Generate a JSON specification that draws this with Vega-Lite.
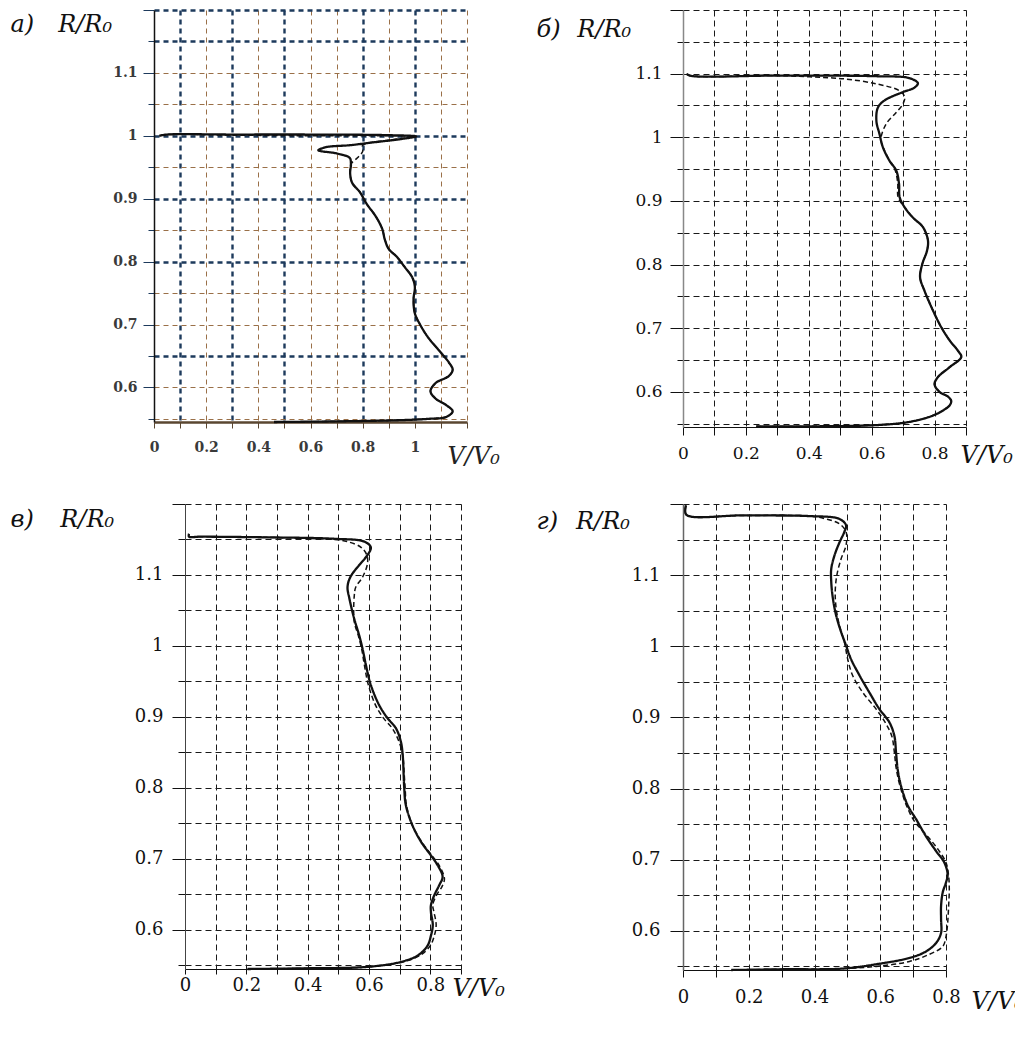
{
  "$schema": "https://vega.github.io/schema/vega-lite/v6.json",
  "background": "white",
  "padding": {"left": 9, "top": 9, "right": 0, "bottom": 0},
  "config": {
    "view": {"stroke": null},
    "axis": {
      "labelFont": "DejaVu Serif", "titleFont": "DejaVu Serif",
      "labelFlush": false, "labelOverlap": false,
      "titleFontStyle": "italic", "titleFontWeight": "normal",
      "titleAlign": "left", "titleBaseline": "alphabetic",
      "tickColor": "#111", "domainColor": "#111", "labelColor": "#111", "titleColor": "#111",
      "grid": true, "gridDash": [6, 4], "gridColor": "#1a1a1a", "gridWidth": 1
    },
    "axisX": {"titleAngle": 0},
    "axisY": {"titleAngle": 0},
    "line": {"color": "#111", "interpolate": "catmull-rom", "clip": false}
  },
  "datasets": {
    "sp": [{"k": 1}],
    "pa": [
      {"s":"solid","i":0,"v":0.46,"r":0.545},{"s":"solid","i":1,"v":0.7,"r":0.546},{"s":"solid","i":2,"v":0.95,"r":0.548},{"s":"solid","i":3,"v":1.05,"r":0.55},{"s":"solid","i":4,"v":1.12,"r":0.553},{"s":"solid","i":5,"v":1.145,"r":0.562},{"s":"solid","i":6,"v":1.12,"r":0.572},{"s":"solid","i":7,"v":1.08,"r":0.582},{"s":"solid","i":8,"v":1.06,"r":0.594},{"s":"solid","i":9,"v":1.08,"r":0.607},{"s":"solid","i":10,"v":1.13,"r":0.618},{"s":"solid","i":11,"v":1.145,"r":0.628},{"s":"solid","i":12,"v":1.13,"r":0.64},{"s":"solid","i":13,"v":1.09,"r":0.66},{"s":"solid","i":14,"v":1.05,"r":0.68},{"s":"solid","i":15,"v":1.02,"r":0.7},{"s":"solid","i":16,"v":1.0,"r":0.718},{"s":"solid","i":17,"v":0.995,"r":0.74},{"s":"solid","i":18,"v":1.0,"r":0.76},{"s":"solid","i":19,"v":0.99,"r":0.775},{"s":"solid","i":20,"v":0.96,"r":0.792},{"s":"solid","i":21,"v":0.93,"r":0.808},{"s":"solid","i":22,"v":0.9,"r":0.82},{"s":"solid","i":23,"v":0.885,"r":0.835},{"s":"solid","i":24,"v":0.875,"r":0.852},{"s":"solid","i":25,"v":0.85,"r":0.872},{"s":"solid","i":26,"v":0.815,"r":0.892},{"s":"solid","i":27,"v":0.79,"r":0.91},{"s":"solid","i":28,"v":0.76,"r":0.925},{"s":"solid","i":29,"v":0.752,"r":0.94},{"s":"solid","i":30,"v":0.755,"r":0.955},{"s":"solid","i":31,"v":0.75,"r":0.965},{"s":"solid","i":32,"v":0.7,"r":0.972},{"s":"solid","i":33,"v":0.63,"r":0.977},{"s":"solid","i":34,"v":0.66,"r":0.982},{"s":"solid","i":35,"v":0.75,"r":0.985},{"s":"solid","i":36,"v":0.85,"r":0.99},{"s":"solid","i":37,"v":0.95,"r":0.995},{"s":"solid","i":38,"v":1.005,"r":0.999},{"s":"solid","i":39,"v":0.9,"r":1.001},{"s":"solid","i":40,"v":0.6,"r":1.002},{"s":"solid","i":41,"v":0.3,"r":1.002},{"s":"solid","i":42,"v":0.05,"r":1.002},{"s":"solid","i":43,"v":0.02,"r":1.0},
      {"s":"dashed","i":0,"v":0.46,"r":0.545},{"s":"dashed","i":1,"v":0.7,"r":0.546},{"s":"dashed","i":2,"v":0.95,"r":0.548},{"s":"dashed","i":3,"v":1.05,"r":0.55},{"s":"dashed","i":4,"v":1.12,"r":0.553},{"s":"dashed","i":5,"v":1.145,"r":0.562},{"s":"dashed","i":6,"v":1.12,"r":0.572},{"s":"dashed","i":7,"v":1.08,"r":0.582},{"s":"dashed","i":8,"v":1.06,"r":0.594},{"s":"dashed","i":9,"v":1.08,"r":0.607},{"s":"dashed","i":10,"v":1.13,"r":0.618},{"s":"dashed","i":11,"v":1.145,"r":0.628},{"s":"dashed","i":12,"v":1.13,"r":0.64},{"s":"dashed","i":13,"v":1.09,"r":0.66},{"s":"dashed","i":14,"v":1.05,"r":0.68},{"s":"dashed","i":15,"v":1.02,"r":0.7},{"s":"dashed","i":16,"v":1.0,"r":0.718},{"s":"dashed","i":17,"v":0.995,"r":0.74},{"s":"dashed","i":18,"v":1.0,"r":0.76},{"s":"dashed","i":19,"v":0.99,"r":0.775},{"s":"dashed","i":20,"v":0.96,"r":0.792},{"s":"dashed","i":21,"v":0.93,"r":0.808},{"s":"dashed","i":22,"v":0.9,"r":0.82},{"s":"dashed","i":23,"v":0.885,"r":0.835},{"s":"dashed","i":24,"v":0.875,"r":0.852},{"s":"dashed","i":25,"v":0.85,"r":0.872},{"s":"dashed","i":26,"v":0.815,"r":0.892},{"s":"dashed","i":27,"v":0.79,"r":0.91},{"s":"dashed","i":28,"v":0.76,"r":0.925},{"s":"dashed","i":29,"v":0.752,"r":0.94},{"s":"dashed","i":30,"v":0.755,"r":0.955},{"s":"dashed","i":31,"v":0.78,"r":0.965},{"s":"dashed","i":32,"v":0.8,"r":0.975},{"s":"dashed","i":33,"v":0.8,"r":0.985},{"s":"dashed","i":34,"v":0.9,"r":0.993},{"s":"dashed","i":35,"v":1.0,"r":0.999},{"s":"dashed","i":36,"v":0.9,"r":1.0},{"s":"dashed","i":37,"v":0.65,"r":1.0},{"s":"dashed","i":38,"v":0.3,"r":1.001},{"s":"dashed","i":39,"v":0.05,"r":1.002},{"s":"dashed","i":40,"v":0.02,"r":1.0}
    ],
    "pb": [
      {"s":"solid","i":0,"v":0.233,"r":0.546},{"s":"solid","i":1,"v":0.4,"r":0.546},{"s":"solid","i":2,"v":0.615,"r":0.548},{"s":"solid","i":3,"v":0.72,"r":0.553},{"s":"solid","i":4,"v":0.795,"r":0.563},{"s":"solid","i":5,"v":0.83,"r":0.572},{"s":"solid","i":6,"v":0.848,"r":0.579},{"s":"solid","i":7,"v":0.853,"r":0.586},{"s":"solid","i":8,"v":0.842,"r":0.593},{"s":"solid","i":9,"v":0.816,"r":0.6},{"s":"solid","i":10,"v":0.8,"r":0.612},{"s":"solid","i":11,"v":0.81,"r":0.623},{"s":"solid","i":12,"v":0.848,"r":0.639},{"s":"solid","i":13,"v":0.885,"r":0.655},{"s":"solid","i":14,"v":0.874,"r":0.665},{"s":"solid","i":15,"v":0.848,"r":0.681},{"s":"solid","i":16,"v":0.821,"r":0.702},{"s":"solid","i":17,"v":0.795,"r":0.728},{"s":"solid","i":18,"v":0.768,"r":0.759},{"s":"solid","i":19,"v":0.754,"r":0.78},{"s":"solid","i":20,"v":0.761,"r":0.801},{"s":"solid","i":21,"v":0.776,"r":0.822},{"s":"solid","i":22,"v":0.779,"r":0.838},{"s":"solid","i":23,"v":0.763,"r":0.859},{"s":"solid","i":24,"v":0.731,"r":0.874},{"s":"solid","i":25,"v":0.705,"r":0.89},{"s":"solid","i":26,"v":0.689,"r":0.906},{"s":"solid","i":27,"v":0.687,"r":0.927},{"s":"solid","i":28,"v":0.678,"r":0.948},{"s":"solid","i":29,"v":0.657,"r":0.963},{"s":"solid","i":30,"v":0.636,"r":0.984},{"s":"solid","i":31,"v":0.625,"r":1.005},{"s":"solid","i":32,"v":0.615,"r":1.026},{"s":"solid","i":33,"v":0.62,"r":1.047},{"s":"solid","i":34,"v":0.641,"r":1.058},{"s":"solid","i":35,"v":0.699,"r":1.071},{"s":"solid","i":36,"v":0.736,"r":1.078},{"s":"solid","i":37,"v":0.747,"r":1.085},{"s":"solid","i":38,"v":0.72,"r":1.093},{"s":"solid","i":39,"v":0.615,"r":1.096},{"s":"solid","i":40,"v":0.3,"r":1.097},{"s":"solid","i":41,"v":0.021,"r":1.097},{"s":"solid","i":42,"v":0.011,"r":1.1},
      {"s":"dashed","i":0,"v":0.233,"r":0.546},{"s":"dashed","i":1,"v":0.4,"r":0.546},{"s":"dashed","i":2,"v":0.615,"r":0.548},{"s":"dashed","i":3,"v":0.72,"r":0.553},{"s":"dashed","i":4,"v":0.795,"r":0.563},{"s":"dashed","i":5,"v":0.83,"r":0.572},{"s":"dashed","i":6,"v":0.848,"r":0.579},{"s":"dashed","i":7,"v":0.853,"r":0.586},{"s":"dashed","i":8,"v":0.842,"r":0.593},{"s":"dashed","i":9,"v":0.816,"r":0.6},{"s":"dashed","i":10,"v":0.8,"r":0.612},{"s":"dashed","i":11,"v":0.81,"r":0.623},{"s":"dashed","i":12,"v":0.848,"r":0.639},{"s":"dashed","i":13,"v":0.885,"r":0.655},{"s":"dashed","i":14,"v":0.874,"r":0.665},{"s":"dashed","i":15,"v":0.848,"r":0.681},{"s":"dashed","i":16,"v":0.821,"r":0.702},{"s":"dashed","i":17,"v":0.795,"r":0.728},{"s":"dashed","i":18,"v":0.768,"r":0.759},{"s":"dashed","i":19,"v":0.754,"r":0.78},{"s":"dashed","i":20,"v":0.761,"r":0.801},{"s":"dashed","i":21,"v":0.776,"r":0.822},{"s":"dashed","i":22,"v":0.779,"r":0.838},{"s":"dashed","i":23,"v":0.763,"r":0.859},{"s":"dashed","i":24,"v":0.731,"r":0.874},{"s":"dashed","i":25,"v":0.705,"r":0.89},{"s":"dashed","i":26,"v":0.684,"r":0.906},{"s":"dashed","i":27,"v":0.683,"r":0.927},{"s":"dashed","i":28,"v":0.675,"r":0.948},{"s":"dashed","i":29,"v":0.657,"r":0.963},{"s":"dashed","i":30,"v":0.645,"r":0.975},{"s":"dashed","i":31,"v":0.632,"r":0.99},{"s":"dashed","i":32,"v":0.63,"r":1.0},{"s":"dashed","i":33,"v":0.646,"r":1.021},{"s":"dashed","i":34,"v":0.678,"r":1.039},{"s":"dashed","i":35,"v":0.699,"r":1.052},{"s":"dashed","i":36,"v":0.705,"r":1.063},{"s":"dashed","i":37,"v":0.689,"r":1.073},{"s":"dashed","i":38,"v":0.615,"r":1.084},{"s":"dashed","i":39,"v":0.509,"r":1.092},{"s":"dashed","i":40,"v":0.403,"r":1.095},{"s":"dashed","i":41,"v":0.3,"r":1.097},{"s":"dashed","i":42,"v":0.021,"r":1.097},{"s":"dashed","i":43,"v":0.011,"r":1.1}
    ],
    "pv": [
      {"s":"solid","i":0,"v":0.204,"r":0.545},{"s":"solid","i":1,"v":0.4,"r":0.546},{"s":"solid","i":2,"v":0.595,"r":0.548},{"s":"solid","i":3,"v":0.704,"r":0.555},{"s":"solid","i":4,"v":0.759,"r":0.564},{"s":"solid","i":5,"v":0.791,"r":0.578},{"s":"solid","i":6,"v":0.802,"r":0.592},{"s":"solid","i":7,"v":0.808,"r":0.607},{"s":"solid","i":8,"v":0.802,"r":0.625},{"s":"solid","i":9,"v":0.802,"r":0.635},{"s":"solid","i":10,"v":0.813,"r":0.649},{"s":"solid","i":11,"v":0.829,"r":0.663},{"s":"solid","i":12,"v":0.84,"r":0.675},{"s":"solid","i":13,"v":0.824,"r":0.691},{"s":"solid","i":14,"v":0.802,"r":0.705},{"s":"solid","i":15,"v":0.77,"r":0.724},{"s":"solid","i":16,"v":0.742,"r":0.747},{"s":"solid","i":17,"v":0.72,"r":0.776},{"s":"solid","i":18,"v":0.715,"r":0.799},{"s":"solid","i":19,"v":0.713,"r":0.818},{"s":"solid","i":20,"v":0.71,"r":0.846},{"s":"solid","i":21,"v":0.704,"r":0.865},{"s":"solid","i":22,"v":0.688,"r":0.884},{"s":"solid","i":23,"v":0.661,"r":0.898},{"s":"solid","i":24,"v":0.634,"r":0.916},{"s":"solid","i":25,"v":0.606,"r":0.945},{"s":"solid","i":26,"v":0.59,"r":0.973},{"s":"solid","i":27,"v":0.579,"r":0.996},{"s":"solid","i":28,"v":0.568,"r":1.015},{"s":"solid","i":29,"v":0.552,"r":1.038},{"s":"solid","i":30,"v":0.536,"r":1.067},{"s":"solid","i":31,"v":0.53,"r":1.083},{"s":"solid","i":32,"v":0.539,"r":1.097},{"s":"solid","i":33,"v":0.568,"r":1.114},{"s":"solid","i":34,"v":0.595,"r":1.128},{"s":"solid","i":35,"v":0.606,"r":1.139},{"s":"solid","i":36,"v":0.585,"r":1.147},{"s":"solid","i":37,"v":0.487,"r":1.151},{"s":"solid","i":38,"v":0.269,"r":1.153},{"s":"solid","i":39,"v":0.051,"r":1.154},{"s":"solid","i":40,"v":0.013,"r":1.154},{"s":"solid","i":41,"v":0.013,"r":1.158},
      {"s":"dashed","i":0,"v":0.204,"r":0.545},{"s":"dashed","i":1,"v":0.4,"r":0.546},{"s":"dashed","i":2,"v":0.595,"r":0.548},{"s":"dashed","i":3,"v":0.71,"r":0.555},{"s":"dashed","i":4,"v":0.77,"r":0.565},{"s":"dashed","i":5,"v":0.8,"r":0.578},{"s":"dashed","i":6,"v":0.813,"r":0.592},{"s":"dashed","i":7,"v":0.819,"r":0.607},{"s":"dashed","i":8,"v":0.812,"r":0.625},{"s":"dashed","i":9,"v":0.808,"r":0.635},{"s":"dashed","i":10,"v":0.82,"r":0.649},{"s":"dashed","i":11,"v":0.838,"r":0.661},{"s":"dashed","i":12,"v":0.846,"r":0.672},{"s":"dashed","i":13,"v":0.83,"r":0.69},{"s":"dashed","i":14,"v":0.805,"r":0.705},{"s":"dashed","i":15,"v":0.772,"r":0.724},{"s":"dashed","i":16,"v":0.742,"r":0.747},{"s":"dashed","i":17,"v":0.722,"r":0.776},{"s":"dashed","i":18,"v":0.718,"r":0.799},{"s":"dashed","i":19,"v":0.715,"r":0.818},{"s":"dashed","i":20,"v":0.71,"r":0.846},{"s":"dashed","i":21,"v":0.698,"r":0.865},{"s":"dashed","i":22,"v":0.676,"r":0.884},{"s":"dashed","i":23,"v":0.648,"r":0.898},{"s":"dashed","i":24,"v":0.622,"r":0.916},{"s":"dashed","i":25,"v":0.598,"r":0.945},{"s":"dashed","i":26,"v":0.585,"r":0.973},{"s":"dashed","i":27,"v":0.576,"r":0.996},{"s":"dashed","i":28,"v":0.565,"r":1.015},{"s":"dashed","i":29,"v":0.552,"r":1.034},{"s":"dashed","i":30,"v":0.552,"r":1.071},{"s":"dashed","i":31,"v":0.557,"r":1.083},{"s":"dashed","i":32,"v":0.579,"r":1.097},{"s":"dashed","i":33,"v":0.595,"r":1.116},{"s":"dashed","i":34,"v":0.593,"r":1.128},{"s":"dashed","i":35,"v":0.574,"r":1.139},{"s":"dashed","i":36,"v":0.53,"r":1.147},{"s":"dashed","i":37,"v":0.487,"r":1.15},{"s":"dashed","i":38,"v":0.269,"r":1.153},{"s":"dashed","i":39,"v":0.051,"r":1.154},{"s":"dashed","i":40,"v":0.013,"r":1.154},{"s":"dashed","i":41,"v":0.013,"r":1.158}
    ],
    "pg": [
      {"s":"solid","i":0,"v":0.147,"r":0.545},{"s":"solid","i":1,"v":0.3,"r":0.546},{"s":"solid","i":2,"v":0.486,"r":0.547},{"s":"solid","i":3,"v":0.587,"r":0.553},{"s":"solid","i":4,"v":0.689,"r":0.562},{"s":"solid","i":5,"v":0.739,"r":0.571},{"s":"solid","i":6,"v":0.77,"r":0.583},{"s":"solid","i":7,"v":0.785,"r":0.597},{"s":"solid","i":8,"v":0.785,"r":0.616},{"s":"solid","i":9,"v":0.785,"r":0.635},{"s":"solid","i":10,"v":0.79,"r":0.654},{"s":"solid","i":11,"v":0.8,"r":0.668},{"s":"solid","i":12,"v":0.805,"r":0.679},{"s":"solid","i":13,"v":0.795,"r":0.696},{"s":"solid","i":14,"v":0.77,"r":0.712},{"s":"solid","i":15,"v":0.739,"r":0.733},{"s":"solid","i":16,"v":0.709,"r":0.757},{"s":"solid","i":17,"v":0.684,"r":0.776},{"s":"solid","i":18,"v":0.663,"r":0.804},{"s":"solid","i":19,"v":0.653,"r":0.827},{"s":"solid","i":20,"v":0.648,"r":0.851},{"s":"solid","i":21,"v":0.643,"r":0.874},{"s":"solid","i":22,"v":0.628,"r":0.893},{"s":"solid","i":23,"v":0.597,"r":0.912},{"s":"solid","i":24,"v":0.567,"r":0.935},{"s":"solid","i":25,"v":0.537,"r":0.959},{"s":"solid","i":26,"v":0.511,"r":0.982},{"s":"solid","i":27,"v":0.496,"r":1.001},{"s":"solid","i":28,"v":0.481,"r":1.02},{"s":"solid","i":29,"v":0.466,"r":1.043},{"s":"solid","i":30,"v":0.456,"r":1.067},{"s":"solid","i":31,"v":0.451,"r":1.09},{"s":"solid","i":32,"v":0.451,"r":1.109},{"s":"solid","i":33,"v":0.461,"r":1.128},{"s":"solid","i":34,"v":0.476,"r":1.146},{"s":"solid","i":35,"v":0.491,"r":1.161},{"s":"solid","i":36,"v":0.496,"r":1.17},{"s":"solid","i":37,"v":0.476,"r":1.179},{"s":"solid","i":38,"v":0.385,"r":1.183},{"s":"solid","i":39,"v":0.182,"r":1.184},{"s":"solid","i":40,"v":0.01,"r":1.185},{"s":"solid","i":41,"v":0.009,"r":1.198},
      {"s":"dashed","i":0,"v":0.147,"r":0.545},{"s":"dashed","i":1,"v":0.3,"r":0.546},{"s":"dashed","i":2,"v":0.486,"r":0.547},{"s":"dashed","i":3,"v":0.587,"r":0.55},{"s":"dashed","i":4,"v":0.689,"r":0.557},{"s":"dashed","i":5,"v":0.749,"r":0.567},{"s":"dashed","i":6,"v":0.79,"r":0.578},{"s":"dashed","i":7,"v":0.8,"r":0.592},{"s":"dashed","i":8,"v":0.805,"r":0.611},{"s":"dashed","i":9,"v":0.808,"r":0.635},{"s":"dashed","i":10,"v":0.81,"r":0.658},{"s":"dashed","i":11,"v":0.808,"r":0.677},{"s":"dashed","i":12,"v":0.8,"r":0.696},{"s":"dashed","i":13,"v":0.775,"r":0.715},{"s":"dashed","i":14,"v":0.74,"r":0.735},{"s":"dashed","i":15,"v":0.704,"r":0.754},{"s":"dashed","i":16,"v":0.68,"r":0.776},{"s":"dashed","i":17,"v":0.66,"r":0.804},{"s":"dashed","i":18,"v":0.648,"r":0.83},{"s":"dashed","i":19,"v":0.643,"r":0.851},{"s":"dashed","i":20,"v":0.635,"r":0.874},{"s":"dashed","i":21,"v":0.615,"r":0.893},{"s":"dashed","i":22,"v":0.587,"r":0.912},{"s":"dashed","i":23,"v":0.547,"r":0.935},{"s":"dashed","i":24,"v":0.516,"r":0.959},{"s":"dashed","i":25,"v":0.501,"r":0.982},{"s":"dashed","i":26,"v":0.491,"r":1.006},{"s":"dashed","i":27,"v":0.476,"r":1.029},{"s":"dashed","i":28,"v":0.466,"r":1.053},{"s":"dashed","i":29,"v":0.463,"r":1.076},{"s":"dashed","i":30,"v":0.468,"r":1.1},{"s":"dashed","i":31,"v":0.481,"r":1.123},{"s":"dashed","i":32,"v":0.496,"r":1.142},{"s":"dashed","i":33,"v":0.496,"r":1.161},{"s":"dashed","i":34,"v":0.476,"r":1.172},{"s":"dashed","i":35,"v":0.435,"r":1.179},{"s":"dashed","i":36,"v":0.385,"r":1.183},{"s":"dashed","i":37,"v":0.182,"r":1.184},{"s":"dashed","i":38,"v":0.01,"r":1.185},{"s":"dashed","i":39,"v":0.009,"r":1.198}
    ]
  },
  "spacing": 32,
  "vconcat": [
    {
      "spacing": 36,
      "hconcat": [
        {
          "spacing": 0,
          "hconcat": [
            {"width": 1, "height": 1, "data": {"name": "sp"}, "mark": {"type": "point", "size": 0, "opacity": 0, "strokeWidth": 0}, "encoding": {}},
            {
              "width": 313, "height": 412,
              "data": {"name": "pa"},
              "mark": {"type": "line"},
              "encoding": {
                "x": {"field": "v", "type": "quantitative", "scale": {"domain": [0, 1.2], "nice": false, "zero": false},
                  "axis": {"values": [0,0.1,0.2,0.3,0.4,0.5,0.6,0.7,0.8,0.9,1,1.1,1.2],
                    "labelExpr": "indexof([0,0.2,0.4,0.6,0.8,1], datum.value) >= 0 ? format(datum.value, '~g') : ''",
                    "labelFontSize": {"condition": {"test": "indexof([0,0.2,0.4,0.6,0.8,1], datum.value) >= 0", "value": 14}, "value": 1},
                    "labelFontWeight": "bold", "labelColor": "#3a3a3a", "labelPadding": 12, "tickSize": 6, "tickColor": "#5a4630",
                    "domainColor": "#5a4630", "domainWidth": 2.5,
                    "gridColor": {"condition": {"test": "indexof([0.1,0.3,0.5,0.8,1], datum.value) >= 0", "value": "#1d3a5c"}, "value": "#9a7048"},
                    "gridWidth": {"condition": {"test": "indexof([0.1,0.3,0.5,0.8,1], datum.value) >= 0", "value": 2.4}, "value": 1},
                    "gridDash": [5, 4],
                    "gridOpacity": {"condition": {"test": "datum.value == 0", "value": 0}, "value": 1},
                    "title": "V/V₀", "titleFontSize": 24, "titleX": 293, "titleY": 41, "titleColor": "#222"}},
                "y": {"field": "r", "type": "quantitative", "scale": {"domain": [0.545, 1.2], "nice": false, "zero": false},
                  "axis": {"values": [0.55,0.6,0.65,0.7,0.75,0.8,0.85,0.9,0.95,1,1.05,1.1,1.15,1.2],
                    "labelExpr": "indexof([0.6,0.7,0.8,0.9,1,1.1], datum.value) >= 0 ? format(datum.value, '~g') : ''",
                    "labelFontSize": {"condition": {"test": "indexof([0.6,0.7,0.8,0.9,1,1.1], datum.value) >= 0", "value": 14}, "value": 1},
                    "labelFontWeight": "bold", "labelColor": "#3a3a3a", "labelPadding": 6,
                    "tickSize": {"condition": {"test": "indexof([0.6,0.7,0.8,0.9,1,1.1,1.2], datum.value) >= 0", "value": 11}, "value": 6},
                    "tickColor": "#1d3a5c", "domainColor": "#111", "domainWidth": 1.5,
                    "gridColor": {"condition": {"test": "indexof([0.65,0.8,0.9,1,1.15,1.2], datum.value) >= 0", "value": "#1d3a5c"}, "value": "#9a7048"},
                    "gridWidth": {"condition": {"test": "indexof([0.65,0.8,0.9,1,1.15,1.2], datum.value) >= 0", "value": 2.4}, "value": 1},
                    "gridDash": [5, 4],
                    "title": "а)\u2003R/R₀", "titleFontSize": 24, "titleX": -144, "titleY": 21, "titleAngle": 0}},
                "strokeDash": {"field": "s", "type": "nominal", "scale": {"domain": ["solid", "dashed"], "range": [[1, 0], [5, 3]]}, "legend": null},
                "strokeWidth": {"field": "s", "type": "nominal", "scale": {"domain": ["solid", "dashed"], "range": [2.3, 1.5]}, "legend": null},
                "order": {"field": "i", "type": "quantitative"}
              }
            }
          ]
        },
        {
          "width": 283, "height": 417,
          "data": {"name": "pb"},
          "mark": {"type": "line"},
          "encoding": {
            "x": {"field": "v", "type": "quantitative", "scale": {"domain": [0, 0.9], "nice": false, "zero": false},
              "axis": {"values": [0,0.1,0.2,0.3,0.4,0.5,0.6,0.7,0.8,0.9],
                "labelExpr": "indexof([0,0.2,0.4,0.6,0.8], datum.value) >= 0 ? format(datum.value, '~g') : ''",
                "labelFontSize": {"condition": {"test": "indexof([0,0.2,0.4,0.6,0.8], datum.value) >= 0", "value": 17}, "value": 1},
                "labelPadding": 10, "tickSize": 8,
                "gridOpacity": {"condition": {"test": "datum.value == 0", "value": 0}, "value": 1},
                "title": "V/V₀", "titleFontSize": 24, "titleX": 277, "titleY": 35}},
            "y": {"field": "r", "type": "quantitative", "scale": {"domain": [0.545, 1.2], "nice": false, "zero": false},
              "axis": {"values": [0.55,0.6,0.65,0.7,0.75,0.8,0.85,0.9,0.95,1,1.05,1.1,1.15,1.2],
                "labelExpr": "indexof([0.6,0.7,0.8,0.9,1,1.1], datum.value) >= 0 ? format(datum.value, '~g') : ''",
                "labelFontSize": {"condition": {"test": "indexof([0.6,0.7,0.8,0.9,1,1.1], datum.value) >= 0", "value": 17}, "value": 1},
                "labelPadding": 8,
                "tickSize": {"condition": {"test": "indexof([0.6,0.7,0.8,0.9,1,1.1,1.2], datum.value) >= 0", "value": 13}, "value": 6},
                "domainColor": "#888", "domainWidth": 1.5,
                "title": "б)\u2002\u2009R/R₀", "titleFontSize": 24, "titleX": -147, "titleY": 26, "titleAngle": 0}},
            "strokeDash": {"field": "s", "type": "nominal", "scale": {"domain": ["solid", "dashed"], "range": [[1, 0], [6, 4]]}, "legend": null},
            "strokeWidth": {"field": "s", "type": "nominal", "scale": {"domain": ["solid", "dashed"], "range": [2.4, 1.7]}, "legend": null},
            "order": {"field": "i", "type": "quantitative"}
          }
        }
      ]
    },
    {
      "spacing": 31,
      "hconcat": [
        {
          "spacing": 0,
          "hconcat": [
            {"width": 1, "height": 1, "data": {"name": "sp"}, "mark": {"type": "point", "size": 0, "opacity": 0, "strokeWidth": 0}, "encoding": {}},
            {
              "width": 276, "height": 465,
              "data": {"name": "pv"},
              "mark": {"type": "line"},
              "encoding": {
                "x": {"field": "v", "type": "quantitative", "scale": {"domain": [0, 0.9], "nice": false, "zero": false},
                  "axis": {"values": [0,0.1,0.2,0.3,0.4,0.5,0.6,0.7,0.8,0.9],
                    "labelExpr": "indexof([0,0.2,0.4,0.6,0.8], datum.value) >= 0 ? format(datum.value, '~g') : ''",
                    "labelFontSize": {"condition": {"test": "indexof([0,0.2,0.4,0.6,0.8], datum.value) >= 0", "value": 18}, "value": 1},
                    "labelPadding": 2, "tickSize": 5,
                    "gridOpacity": {"condition": {"test": "datum.value == 0", "value": 0}, "value": 1},
                    "title": "V/V₀", "titleFontSize": 24, "titleX": 267, "titleY": 26}},
                "y": {"field": "r", "type": "quantitative", "scale": {"domain": [0.545, 1.2], "nice": false, "zero": false},
                  "axis": {"values": [0.55,0.6,0.65,0.7,0.75,0.8,0.85,0.9,0.95,1,1.05,1.1,1.15,1.2],
                    "labelExpr": "indexof([0.6,0.7,0.8,0.9,1,1.1], datum.value) >= 0 ? format(datum.value, '~g') : ''",
                    "labelFontSize": {"condition": {"test": "indexof([0.6,0.7,0.8,0.9,1,1.1], datum.value) >= 0", "value": 18}, "value": 1},
                    "labelPadding": 9,
                    "tickSize": {"condition": {"test": "indexof([0.6,0.7,0.8,0.9,1,1.1,1.2], datum.value) >= 0", "value": 13}, "value": 7},
                    "domainColor": "#444",
                    "title": "в)\u2003\u200aR/R₀", "titleFontSize": 24, "titleX": -175, "titleY": 22, "titleAngle": 0}},
                "strokeDash": {"field": "s", "type": "nominal", "scale": {"domain": ["solid", "dashed"], "range": [[1, 0], [6, 4]]}, "legend": null},
                "strokeWidth": {"field": "s", "type": "nominal", "scale": {"domain": ["solid", "dashed"], "range": [2.3, 1.7]}, "legend": null},
                "order": {"field": "i", "type": "quantitative"}
              }
            }
          ]
        },
        {
          "width": 263, "height": 466,
          "data": {"name": "pg"},
          "mark": {"type": "line"},
          "encoding": {
            "x": {"field": "v", "type": "quantitative", "scale": {"domain": [0, 0.8], "nice": false, "zero": false},
              "axis": {"values": [0,0.1,0.2,0.3,0.4,0.5,0.6,0.7,0.8],
                "labelExpr": "indexof([0,0.2,0.4,0.6,0.8], datum.value) >= 0 ? format(datum.value, '~g') : ''",
                "labelFontSize": 18, "labelPadding": 11, "tickSize": 7,
                "gridOpacity": {"condition": {"test": "datum.value == 0", "value": 0}, "value": 1},
                "title": "V/V₀", "titleFontSize": 24, "titleX": 288, "titleY": 38}},
            "y": {"field": "r", "type": "quantitative", "scale": {"domain": [0.545, 1.2], "nice": false, "zero": false},
              "axis": {"values": [0.55,0.6,0.65,0.7,0.75,0.8,0.85,0.9,0.95,1,1.05,1.1,1.15,1.2],
                "labelExpr": "indexof([0.6,0.7,0.8,0.9,1,1.1], datum.value) >= 0 ? format(datum.value, '~g') : ''",
                "labelFontSize": {"condition": {"test": "indexof([0.6,0.7,0.8,0.9,1,1.1], datum.value) >= 0", "value": 18}, "value": 1},
                "labelPadding": 10,
                "tickSize": {"condition": {"test": "indexof([0.6,0.7,0.8,0.9,1,1.1,1.2], datum.value) >= 0", "value": 13}, "value": 6},
                "domainColor": "#666", "domainWidth": 1.5,
                "title": "г)\u2002\u2005R/R₀", "titleFontSize": 24, "titleX": -147, "titleY": 24, "titleAngle": 0}},
            "strokeDash": {"field": "s", "type": "nominal", "scale": {"domain": ["solid", "dashed"], "range": [[1, 0], [6, 4]]}, "legend": null},
            "strokeWidth": {"field": "s", "type": "nominal", "scale": {"domain": ["solid", "dashed"], "range": [2.3, 1.7]}, "legend": null},
            "order": {"field": "i", "type": "quantitative"}
          }
        }
      ]
    }
  ]
}
